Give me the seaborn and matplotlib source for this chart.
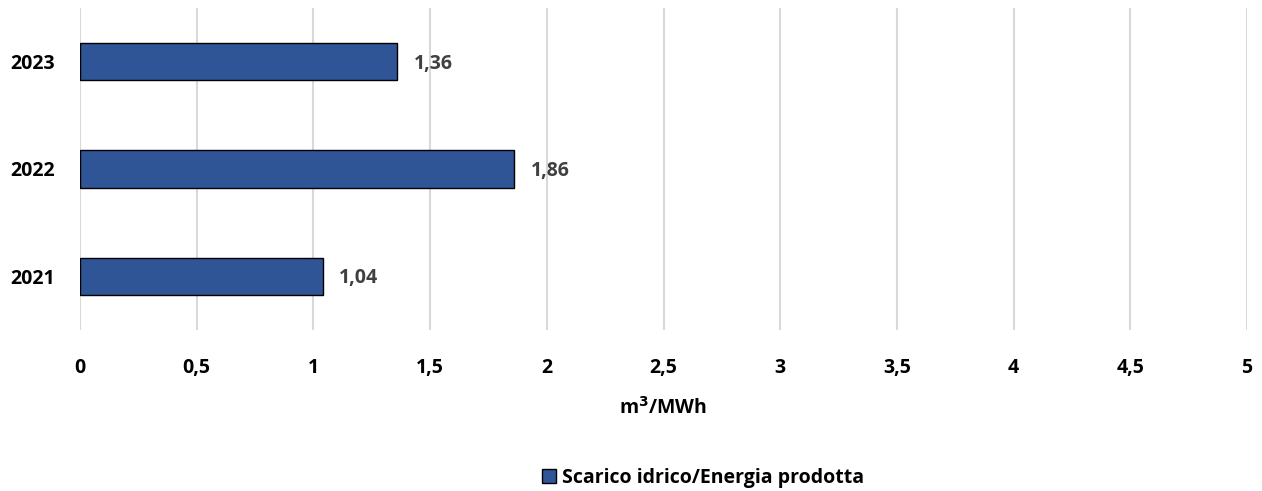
import matplotlib
matplotlib.use("Agg")
import matplotlib.pyplot as plt
import seaborn as sns
import pandas as pd

years = ["2023", "2022", "2021"]
values = [1.36, 1.86, 1.04]
series_name = "Scarico idrico/Energia prodotta"
x_ticks = [0, 0.5, 1, 1.5, 2, 2.5, 3, 3.5, 4, 4.5, 5]
x_tick_labels = ["0", "0,5", "1", "1,5", "2", "2,5", "3", "3,5", "4", "4,5", "5"]

sns.set_theme(style="white")
plt.rcParams["font.family"] = ["Open Sans", "DejaVu Sans"]
plt.rcParams["font.weight"] = "bold"

df = pd.DataFrame({"Anno": years, "Valore": values, "Serie": series_name})

fig = plt.figure(figsize=(12.62, 4.91), dpi=100)
ax = fig.add_axes([80 / 1262, 1 - 330 / 491, (1247 - 80) / 1262, (330 - 8) / 491])

sns.barplot(data=df, x="Valore", y="Anno", hue="Serie", order=years,
            palette=["#2F5597"], saturation=1, width=0.35, edgecolor="black",
            linewidth=1.0, ax=ax, legend=True)

ax.set_xlim(0, 5)
ax.set_ylim(2.5, -0.5)
ax.set_xticks(x_ticks)
ax.set_xticklabels(x_tick_labels, fontsize=14, fontweight="bold", color="black")
ax.tick_params(axis="y", labelsize=14, labelcolor="black", length=0, pad=18)
ax.tick_params(axis="x", length=0, pad=20)
for lbl in ax.get_yticklabels():
    lbl.set_fontweight("bold")
ax.grid(axis="x", color="#D9D9D9", linewidth=1.5)
ax.set_axisbelow(True)
for s in ax.spines.values():
    s.set_visible(False)

ax.set_ylabel("")
ax.set_xlabel("m$^{3}$/MWh", fontsize=14, fontweight="bold", color="black", labelpad=14)

for i, v in enumerate(values):
    ax.text(v + 0.07, i + 0.02, f"{v:.2f}".replace(".", ","), va="center", ha="left",
            fontsize=14, fontweight="bold", color="#404040")

leg_x = (703 - 80) / (1247 - 80)
leg = ax.legend(loc="center", bbox_to_anchor=(leg_x, -148 / 322), frameon=False,
                fontsize=14, handlelength=0.75, handleheight=0.75, handletextpad=0.3)
for t in leg.get_texts():
    t.set_fontweight("bold")
    t.set_color("black")
for h in leg.legend_handles:
    h.set_edgecolor("black")

fig.savefig("out.png", dpi=100)
